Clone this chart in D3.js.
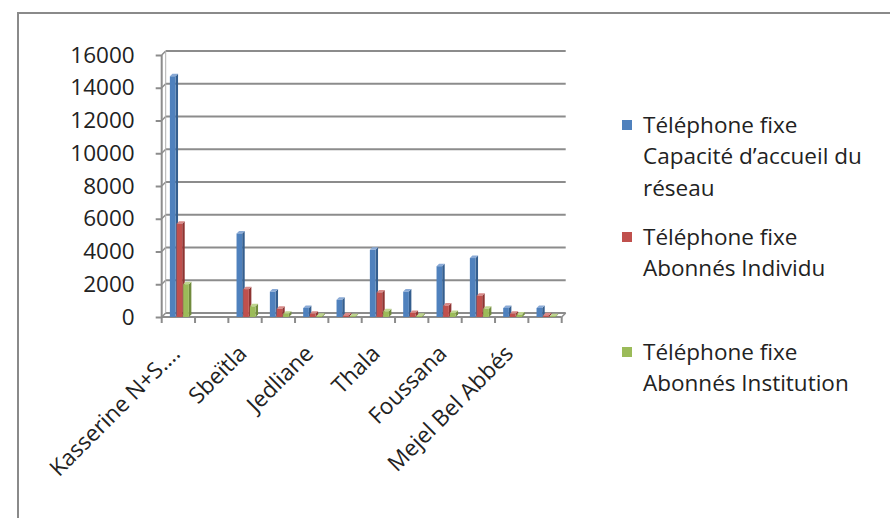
<!DOCTYPE html>
<html>
<head>
<meta charset="utf-8">
<script src="https://cdn.jsdelivr.net/npm/d3@7/dist/d3.min.js"></script>
<style>
  html, body { margin: 0; padding: 0; background: #fff; }
  svg { display: block; }
  text { font-family: "Open Sans", sans-serif; fill: #222; }
</style>
</head>
<body>
<svg id="chart" width="890" height="518"></svg>
<script>
// ---- data ----
const categories = ["Kasserine N+S….", "Ezzouhour", "Sbeïtla", "Sbiba", "Jedliane", "El Ayoun",
  "Thala", "Hidra", "Foussana", "Fériana", "Mejel Bel Abbés", "Hassi El Frid"];
const shownLabels = ["Kasserine N+S….", "Sbeïtla", "Jedliane", "Thala", "Foussana", "Mejel Bel Abbés"];
const capacite   = [14700, 0, 5100, 1550, 550, 1050, 4100, 1550, 3100, 3600, 550, 550];
const individu   = [5700, 0, 1700, 500, 200, 100, 1500, 250, 700, 1300, 200, 100];
const institution= [2000, 0, 650, 200, 80, 50, 350, 80, 250, 500, 150, 50];
const seriesNames = [
  ["Téléphone fixe", "Capacité d’accueil du", "réseau"],
  ["Téléphone fixe", "Abonnés Individu"],
  ["Téléphone fixe", "Abonnés Institution"]
];
const seriesValues = [capacite, individu, institution];
const yTicks = [0, 2000, 4000, 6000, 8000, 10000, 12000, 14000, 16000];

const colors = [
  {front: "#4F81BD", side: "#345E8E", top: "#8AAAD6"},
  {front: "#C0504D", side: "#8E3432", top: "#D88A88"},
  {front: "#9BBB59", side: "#718B3D", top: "#BFD58E"}
];

const FS = 22.5;
const svg = d3.select("#chart");
const D = 4; // depth offset for 3D look

// outer chart border
svg.append("rect").attr("x", 18).attr("y", 13).attr("width", 900).attr("height", 520)
  .attr("fill", "none").attr("stroke", "#8a8a8a").attr("stroke-width", 2);

const x = d3.scaleBand().domain(categories).range([161.7, 561.7]);
const y = d3.scaleLinear().domain([0, 16000]).range([317, 55]);
const bw = x.bandwidth();
const groupW = bw * 0.6;
const xs = d3.scaleBand().domain([0, 1, 2]).range([0, groupW]);

const x0 = x.range()[0], x1 = x.range()[1];
const grid = svg.append("g");
yTicks.forEach(t => {
  grid.append("line").attr("x1", x0 + D).attr("x2", x1 + D)
    .attr("y1", y(t) - D).attr("y2", y(t) - D)
    .attr("stroke", "#8c8c8c").attr("stroke-width", 2);
  grid.append("line").attr("x1", x0).attr("x2", x0 + D)
    .attr("y1", y(t)).attr("y2", y(t) - D)
    .attr("stroke", "#8c8c8c").attr("stroke-width", 1.5);
});
grid.append("line").attr("x1", x0 + D).attr("x2", x0 + D).attr("y1", y(16000) - D).attr("y2", y(0) - D)
  .attr("stroke", "#b0b0b0").attr("stroke-width", 1);
grid.append("line").attr("x1", x1).attr("x2", x1 + D).attr("y1", y(0)).attr("y2", y(0) - D)
  .attr("stroke", "#8c8c8c").attr("stroke-width", 1.5);

// y axis
const yAxis = d3.axisLeft(y).tickValues(yTicks).tickSize(6).tickPadding(21).tickFormat(d3.format("d"));
const ya = svg.append("g").attr("transform", `translate(${x0},0)`).call(yAxis);
ya.select(".domain").attr("stroke", "#8c8c8c").attr("stroke-width", 2).attr("d", `M0,${y(16000)}V${y(0)}`);
ya.selectAll(".tick line").attr("stroke", "#8c8c8c").attr("stroke-width", 2);
ya.selectAll(".tick text").attr("font-size", FS).attr("fill", "#222").attr("font-family", "Open Sans, sans-serif");

// x axis
const xa = svg.append("g").attr("transform", `translate(0,${y(0)})`);
xa.append("line").attr("x1", x0).attr("x2", x1).attr("stroke", "#8c8c8c").attr("stroke-width", 2);
const bounds = categories.map(c => x(c)).concat([x1]);
xa.selectAll(".bt").data(bounds).join("line").attr("class", "bt")
  .attr("x1", d => d).attr("x2", d => d).attr("y1", 0).attr("y2", 6)
  .attr("stroke", "#8c8c8c").attr("stroke-width", 2);

// bars
const bars = svg.append("g");
categories.forEach((c, i) => {
  seriesValues.forEach((vals, s) => {
    const v = vals[i];
    if (!v) return;
    const bx = x(c) + (bw - groupW) / 2 + 1.5 + xs(s);
    const w = xs.bandwidth() - 1;
    const top = y(v), base = y(0);
    const col = colors[s];
    bars.append("polygon")
      .attr("points", `${bx + w},${top} ${bx + w + 2.5},${top - 2.5} ${bx + w + 2.5},${base - 2.5} ${bx + w},${base}`)
      .attr("fill", col.side);
    bars.append("polygon")
      .attr("points", `${bx},${top} ${bx + 2.5},${top - 2.5} ${bx + w + 2.5},${top - 2.5} ${bx + w},${top}`)
      .attr("fill", col.top);
    bars.append("rect").attr("x", bx).attr("y", top).attr("width", w).attr("height", base - top)
      .attr("fill", col.front);
  });
});

// category labels
const lab = svg.append("g");
categories.forEach(c => {
  if (!shownLabels.includes(c)) return;
  const cx = x(c) + bw / 2 + 3;
  lab.append("text")
    .attr("transform", `translate(${cx},${y(0) + 38}) rotate(-45)`)
    .attr("text-anchor", "end")
    .attr("font-size", FS).text(c);
});

// legend
const legY = [125, 237, 352];
const lg = svg.append("g");
seriesNames.forEach((lines, s) => {
  lg.append("rect").attr("x", 622).attr("y", legY[s] - 5).attr("width", 10).attr("height", 10)
    .attr("fill", colors[s].front);
  lines.forEach((ln, k) => {
    lg.append("text").attr("x", 643).attr("y", legY[s] + k * 31.5).attr("dy", "0.35em")
      .attr("font-size", FS).text(ln);
  });
});
</script>
</body>
</html>
